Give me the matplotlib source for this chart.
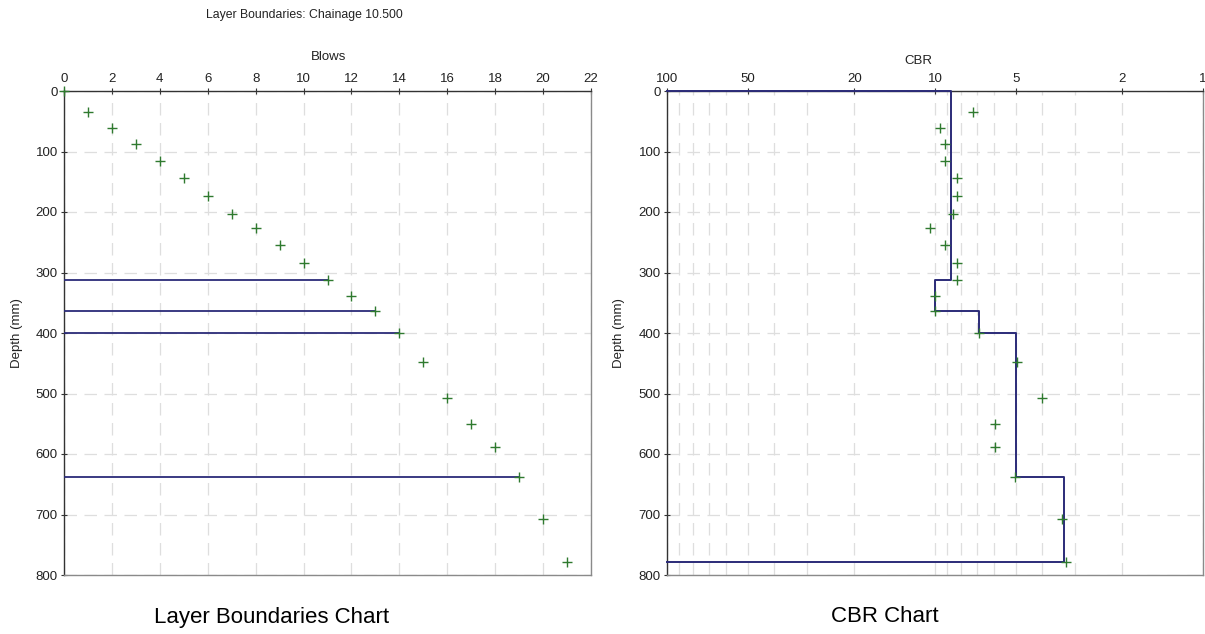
import matplotlib

matplotlib.use("Agg")
import matplotlib.pyplot as plt
from matplotlib.ticker import FixedLocator, FixedFormatter, NullFormatter

plt.rcParams["font.family"] = ["Liberation Sans", "DejaVu Sans"]

# Blow count vs cumulative depth (mm)
blows = [0, 1, 2, 3, 4, 5, 6, 7, 8, 9, 10, 11, 12, 13, 14, 15, 16, 17, 18, 19, 20, 21]
depth = [0, 34, 61, 87, 115, 144, 174, 204, 227, 254, 284, 313, 339, 363, 400, 448,
         508, 550, 589, 638, 707, 779]

# Layer boundaries (depth mm) and the blow count at which they sit
boundary_depth = [313, 363, 400, 638]
boundary_blows = [11, 13, 14, 19]

# CBR per blow, plotted at the depth reached by that blow
cbr_depth = depth[1:]
cbr_values = [7.2, 9.6, 9.2, 9.2, 8.3, 8.3, 8.6, 10.4, 9.2, 8.3, 8.3, 10.0, 10.0,
              6.85, 4.95, 4.0, 5.95, 5.95, 5.05, 3.35, 3.25]

# Layer CBR (step line)
layer_tops = [0, 313, 363, 400, 638]
layer_bottoms = [313, 363, 400, 638, 779]
layer_cbr = [8.75, 10.0, 6.85, 5.0, 3.3]

blow_ticks = list(range(0, 23, 2))
depth_ticks = list(range(0, 801, 100))
cbr_ticks = [100, 50, 20, 10, 5, 2, 1]
cbr_minor = [m * 10 ** e for e in (0, 1) for m in range(1, 10)] + [100]

LINE = "#2b2b78"
MARK = "#2f7a2f"
GRID = "#dedede"
TEXT = "#222222"
DASH = (0, (10, 6))


def style_axes(ax):
    ax.set_ylim(800, 0)
    ax.set_yticks(depth_ticks)
    ax.xaxis.tick_top()
    ax.tick_params(axis="both", direction="inout", length=5, width=0.8,
                   labelsize=9.5, colors="#333333", labelcolor=TEXT, pad=2)
    ax.tick_params(axis="x", which="minor", length=0)
    for side in ("top", "left"):
        ax.spines[side].set_color("#333333")
        ax.spines[side].set_linewidth(1.0)
    for side in ("bottom", "right"):
        ax.spines[side].set_color("#8a8a8a")
        ax.spines[side].set_linewidth(1.0)
    ax.grid(True, which="major", axis="y", color=GRID, linestyle=DASH, linewidth=0.9)
    ax.set_axisbelow(True)


fig = plt.figure(figsize=(12.05, 6.34), dpi=100)

# Left: layer boundaries
ax1 = fig.add_axes([64 / 1205, 1 - 575 / 634, 527 / 1205, 484 / 634])
style_axes(ax1)
ax1.set_xlim(0, 22)
ax1.set_xticks(blow_ticks)
ax1.grid(True, which="major", axis="x", color=GRID, linestyle=DASH, linewidth=0.9)
for d, b in zip(boundary_depth, boundary_blows):
    ax1.plot([0, b], [d, d], color=LINE, linewidth=1.3, zorder=3)
ax1.plot(blows, depth, linestyle="none", marker="+", markersize=7, markeredgewidth=1.0,
         color=MARK, zorder=4, clip_on=False)

# Right: CBR
ax2 = fig.add_axes([667 / 1205, 1 - 575 / 634, 536 / 1205, 484 / 634])
style_axes(ax2)
ax2.set_xscale("log")
ax2.set_xlim(100, 1)
ax2.xaxis.set_major_locator(FixedLocator(cbr_ticks))
ax2.xaxis.set_major_formatter(FixedFormatter([str(t) for t in cbr_ticks]))
ax2.xaxis.set_minor_locator(FixedLocator(cbr_minor))
ax2.xaxis.set_minor_formatter(NullFormatter())
ax2.grid(True, which="both", axis="x", color=GRID, linestyle=DASH, linewidth=0.9)

step_x = [100]
step_y = [0]
for top, bot, c in zip(layer_tops, layer_bottoms, layer_cbr):
    step_x += [c, c]
    step_y += [top, bot]
step_x.append(100)
step_y.append(layer_bottoms[-1])
ax2.plot(step_x, step_y, color=LINE, linewidth=1.4, zorder=3, clip_on=False)
ax2.plot(cbr_values, cbr_depth, linestyle="none", marker="+", markersize=7,
         markeredgewidth=1.0, color=MARK, zorder=4)

# Labels
fig.text(304 / 1205, 1 - 15 / 634, "Layer Boundaries: Chainage 10.500", ha="center",
         va="center", fontsize=8.8, color=TEXT)
fig.text(329 / 1205, 1 - 57 / 634, "Blows", ha="center", va="center", fontsize=9.5, color=TEXT)
fig.text(918 / 1205, 1 - 61 / 634, "CBR", ha="center", va="center", fontsize=9.5, color=TEXT)
fig.text(17 / 1205, 1 - 333 / 634, "Depth (mm)", ha="center", va="center", rotation=90,
         fontsize=9.5, color=TEXT)
fig.text(619 / 1205, 1 - 333 / 634, "Depth (mm)", ha="center", va="center", rotation=90,
         fontsize=9.5, color=TEXT)
fig.text(272 / 1205, 1 - 617 / 634, "Layer Boundaries Chart", ha="center", va="center",
         fontsize=16, color="black")
fig.text(885 / 1205, 1 - 617 / 634, "CBR Chart", ha="center", va="center",
         fontsize=16, color="black")

fig.savefig("out.png", dpi=100)
